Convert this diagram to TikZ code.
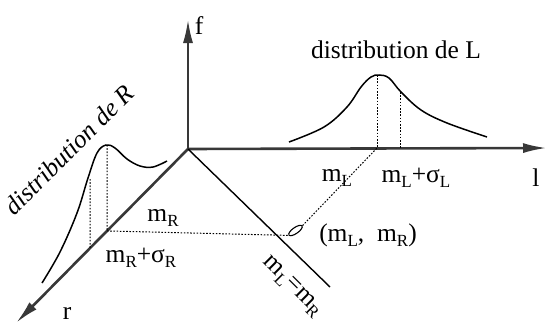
\documentclass[tikz,border=0pt]{standalone}
\usepackage{fontspec}
\setmainfont{Liberation Serif}
\usetikzlibrary{arrows.meta,calc,shapes.geometric}
\newcommand\lsub[1]{\raisebox{-0.45ex}{\fontsize{17}{17}\selectfont #1}}
\tikzset{
  axis/.style={line width=2.6pt,draw=black!78,-{Latex[length=24pt,width=10pt]}},
  thinline/.style={line width=1.4pt},
  curve/.style={line width=1.5pt},
  dots/.style={line width=1pt,dash pattern=on 1.6pt off 1.6pt},
  lab/.style={inner sep=0pt,font=\fontsize{25.5}{29}\selectfont}
}
\begin{document}
\begin{tikzpicture}[x=1pt,y=-1pt]
\useasboundingbox (0,0) rectangle (548,324);
% coordinates
\coordinate (O) at (188,149);
\coordinate (ftip) at (188,19);
\coordinate (ltip) at (547,148);
\coordinate (rtip) at (16,323);
\coordinate (dend) at (330,287);
\coordinate (rA) at ($(O)!{(188-90)/172}!(rtip)$);
\coordinate (rB) at ($(O)!{(188-107)/172}!(rtip)$);
\coordinate (pkR) at (107,145);
\coordinate (sdR) at (90,179);
\coordinate (pkL) at (377,75);
\coordinate (sdL) at (400,92);
\coordinate (axL) at (377,148);
\coordinate (axLs) at (400,148);
% axes
\draw[axis] (O) -- (ftip);
\draw[axis] (O) -- (ltip);
\draw[axis] (O) -- (rtip);
\draw[thinline] (O) -- (dend);
% L distribution
\draw[curve] plot[smooth,tension=0.6] coordinates {(289,142) (324,127) (347,107) (361,87) (371,77) (379,75) (389,78) (401,92) (421,110) (447,123) (487,137)};
% R distribution
\draw[curve] plot[smooth,tension=0.6] coordinates {(42,283) (60,252) (77,213) (88,178) (97,153) (106,145) (115,148) (127,159) (140,166) (153,167) (167,161)};
% dotted
\draw[dots] (pkL) -- (axL);
\draw[dots] (sdL) -- (axLs);
\draw[dots] (pkR) -- (rB);
\draw[dots] (sdR) -- (rA);
% oval point
\node[draw,line width=1.1pt,ellipse,minimum width=16pt,minimum height=6pt,inner sep=0pt,rotate=35] (pt) at (295.5,230.5) {};
\draw[dots] (rB) -- (pt.west);
\draw[dots] (pt.east) -- (axL);
% labels
\node[lab] (fl) at (199,26) {f};
\node[lab] (ll) at (536,178) {l};
\node[lab] (rl) at (67,313) {r};
\node[lab] (dL) at (396,50) {distribution de L};
\node[lab,anchor=base,rotate=45] (dR) at (75,156) {\itshape distribution de R};
\node[lab] (mL) at (337,178) {m\lsub{L}};
\node[lab] (mLs) at (416,178) {m\lsub{L}+σ\lsub{L}};
\node[lab] (pair) at (368,235) {(m\lsub{L}, \ m\lsub{R})};
\node[lab] (mR) at (163,218) {m\lsub{R}};
\node[lab] (mRs) at (141,258) {m\lsub{R}+σ\lsub{R}};
\node[lab,rotate=-45] (eq) at (292,287) {m\lsub{L}=m\lsub{R}};
\end{tikzpicture}
\end{document}
